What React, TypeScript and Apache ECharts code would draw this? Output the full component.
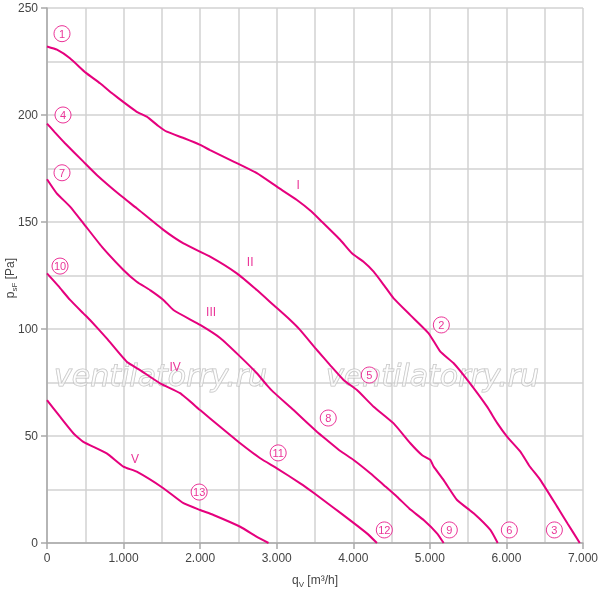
import React, { useEffect, useRef } from "react";
import * as echarts from "echarts";

const MAGENTA = "#e5007d";

// Curve data [q_V m³/h, p_sF Pa]
const curveI: number[][] = [
  [0, 232], [130, 230.5], [300, 226.5], [505, 219.8], [693, 214.8], [863, 209.8], [1000, 206],
  [1172, 201.5], [1303, 199.2], [1450, 195], [1565, 192.2], [1800, 189], [2000, 186], [2130, 183.6],
  [2450, 178], [2741, 172.8], [3006, 166.4], [3264, 160.3], [3450, 155], [3590, 150.1], [3831, 141.6],
  [3982, 135.4], [4130, 131.5], [4266, 126.8], [4400, 120.5], [4527, 114.3], [4745, 106.5], [4984, 98],
  [5137, 89.4], [5311, 84], [5507, 75.4], [5747, 63.7], [5880, 56], [6008, 49.7], [6182, 42.7],
  [6300, 36], [6444, 29.4], [6662, 17], [6800, 9], [6958, 0],
];
const curveII: number[][] = [
  [0, 196], [100, 192], [235, 186.8], [475, 178.2], [650, 172], [954, 162.6], [1172, 156.4],
  [1520, 146.3], [1782, 140], [2130, 133.8], [2479, 126], [2741, 118.2], [2958, 111.2], [3176, 104.2],
  [3307, 99.5], [3525, 90.2], [3700, 83], [3873, 76.2], [4048, 71.5], [4266, 63.7], [4527, 55.9],
  [4745, 46.6], [4900, 41], [5006, 38.8], [5050, 35.7], [5180, 29.4], [5355, 20.1], [5572, 13.9],
  [5790, 6.1], [5886, 0],
];
const curveIII: number[][] = [
  [0, 170], [127, 163.4], [301, 157.2], [475, 149.4], [715, 138.5], [998, 127.6], [1172, 122.1],
  [1346, 118.2], [1520, 113.6], [1651, 108.9], [2000, 101.9], [2261, 95.8], [2523, 87.1], [2741, 79.3],
  [2871, 73.8], [2958, 70.5], [3220, 62.1], [3525, 52], [3656, 48.1], [3831, 43], [4004, 38.8],
  [4222, 32.6], [4400, 27], [4571, 21.6], [4750, 15.5], [4919, 10.7], [5093, 4.5], [5180, 0],
];
const curveIV: number[][] = [
  [0, 126], [150, 120], [301, 113.6], [475, 107.3], [562, 104.2], [780, 95.6], [1041, 84.7],
  [1215, 80.8], [1477, 74.6], [1738, 70], [2000, 62.1], [2261, 54.3], [2523, 46.6], [2784, 39.6],
  [3002, 34.9], [3307, 27.9], [3481, 23.5], [3742, 16.5], [3982, 10], [4178, 4.5], [4309, 0],
];
const curveV: number[][] = [
  [0, 66.8], [170, 59], [344, 51.3], [475, 47.3], [780, 41.9], [998, 35.7], [1172, 33.3],
  [1520, 25.6], [1782, 18.6], [2000, 15.4], [2174, 13.1], [2523, 7.6], [2741, 2.9], [2893, 0],
];

// Circled operating point labels [text, q, p]
const circleLabels: [string, number, number][] = [
  ["1", 196, 238], ["4", 209, 200], ["7", 196, 173], ["10", 170, 129.4],
  ["2", 5150, 101.9], ["5", 4209, 78.5], ["8", 3673, 58.4], ["11", 3019, 42.1],
  ["13", 1987, 23.8], ["12", 4405, 6.1], ["9", 5254, 6.1], ["6", 6038, 6.1], ["3", 6626, 6.1],
];
// Curve names [text, q, p]
const romanLabels: [string, number, number][] = [
  ["I", 3281, 167.3], ["II", 2653, 131.3], ["III", 2143, 107.9], ["IV", 1673, 82.2], ["V", 1150, 39.3],
];

const xTickFormat = (v: number) => (v === 0 ? "0" : `${v / 1000}.000`);

export default function App() {
  const ref = useRef<HTMLDivElement>(null);
  useEffect(() => {
    const chart = echarts.init(ref.current!, null, { renderer: "svg" });
    const font = "Liberation Sans";
    const axisCommon = {
      axisLine: { show: true, lineStyle: { color: "#a8a8a8", width: 1.5 } },
      axisTick: { show: true, length: 6, lineStyle: { color: "#a8a8a8", width: 1.5 } },
      splitLine: { show: true, lineStyle: { color: "#d2d2d2", width: 1.5 } },
      minorTick: { show: false, splitNumber: 2 },
      minorSplitLine: { show: true, lineStyle: { color: "#d2d2d2", width: 1.5 } },
    };
    const lineSeries = [curveI, curveII, curveIII, curveIV, curveV].map((d) => ({
      type: "line",
      data: d,
      symbol: "none",
      showSymbol: false,
      smooth: 0.15,
      silent: true,
      z: 3,
      lineStyle: { color: MAGENTA, width: 2 },
    }));
    const wmStyle = {
      text: "ventilatorry.ru",
      fontSize: 30,
      fontStyle: "italic",
      fontFamily: "DejaVu Sans",
      fill: "rgba(255,255,255,0.5)",
      stroke: "#c0c0c0",
      lineWidth: 1,
      verticalAlign: "middle",
      align: "left",
    };
    const nameRich = {
      a: { fontSize: 12, fill: "#444", color: "#444", fontFamily: font, lineHeight: 16 },
      s: { fontSize: 8, fill: "#444", color: "#444", fontFamily: font, lineHeight: 16, verticalAlign: "bottom", padding: [6, 0, 0, 0] },
    };
    chart.setOption({
      animation: false,
      grid: { left: 47, right: 17, top: 8, bottom: 47, containLabel: false, outerBoundsMode: "none" },
      graphic: [
        { type: "text", x: 54, y: 375, z: 1, silent: true, style: { ...wmStyle } },
        { type: "text", x: 326, y: 375, z: 1, silent: true, style: { ...wmStyle } },
        {
          type: "text",
          x: 10,
          y: 278,
          rotation: Math.PI / 2,
          silent: true,
          style: {
            text: "{a|p}{s|sF}{a| [Pa]}",
            rich: nameRich,
            align: "center",
            verticalAlign: "middle",
          },
        },
      ],
      xAxis: {
        type: "value",
        min: 0,
        max: 7000,
        interval: 1000,
        ...axisCommon,
        axisLabel: { formatter: xTickFormat, fontSize: 12, color: "#444", fontFamily: font, margin: 9 },
        name: "{a|q}{s|V}{a| [m³/h]}",
        nameLocation: "middle",
        nameGap: 29,
        nameTextStyle: { rich: nameRich },
      },
      yAxis: {
        type: "value",
        min: 0,
        max: 250,
        interval: 50,
        ...axisCommon,
        axisLabel: { fontSize: 12, color: "#444", fontFamily: font, margin: 9 },
      },
      series: [
        ...lineSeries,
        {
          type: "scatter",
          silent: true,
          z: 4,
          symbol: "circle",
          symbolSize: 16,
          itemStyle: { color: "#fff", borderColor: MAGENTA, borderWidth: 1 },
          label: {
            show: true,
            position: "inside",
            formatter: (p: any) => p.value[2],
            color: MAGENTA,
            fontSize: 11,
            fontFamily: font,
          },
          data: circleLabels.map(([t, x, y]) => [x, y, t]),
        },
        {
          type: "scatter",
          silent: true,
          z: 4,
          symbolSize: 0,
          itemStyle: { color: "transparent" },
          label: {
            show: true,
            position: "inside",
            formatter: (p: any) => p.value[2],
            color: MAGENTA,
            fontSize: 12,
            fontFamily: font,
          },
          data: romanLabels.map(([t, x, y]) => [x, y, t]),
        },
      ],
    });
    return () => chart.dispose();
  }, []);
  return <div ref={ref} style={{ position: "fixed", left: 0, top: 0, width: 600, height: 590 }} />;
}
